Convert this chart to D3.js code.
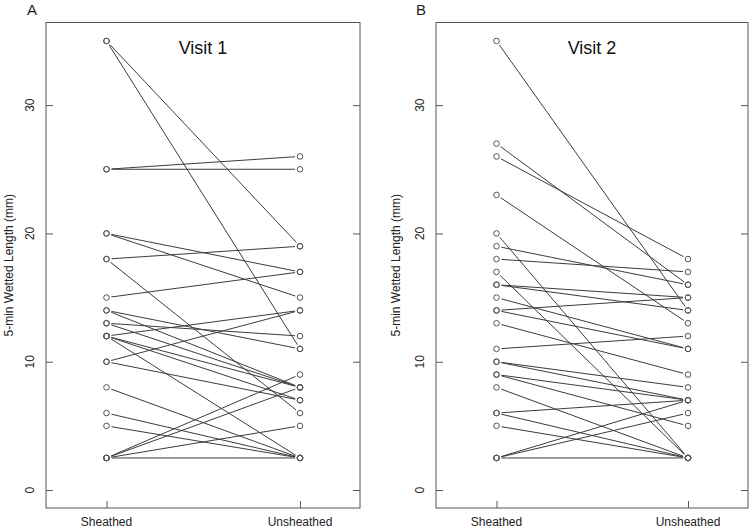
<!DOCTYPE html>
<html><head><meta charset="utf-8">
<script src="https://cdn.jsdelivr.net/npm/d3@7"></script>
<style>body{margin:0;background:#fff}svg{display:block}</style>
</head><body>
<script>
// ---- data (paired by index: sheathed -> unsheathed) ----
const groups = ["Sheathed", "Unsheathed"];
const yTicks = [0, 10, 20, 30];
const panelLetters = ["A", "B"];
const panelTitles = ["Visit 1", "Visit 2"];
const yLabel = "5-min Wetted Length (mm)";
const visit1Sheathed   = [35,35,25,25,20,20,18,18,15,14,14,13,13,12,12,12,12,10,10,8,6,5,2.5,2.5,2.5,2.5];
const visit1Unsheathed = [19,11,26,25,17,15,19,6,17,11,8,12,8,14,8,7,2.5,14,7,2.5,2.5,2.5,9,8,5,2.5];
const visit2Sheathed   = [35,27,26,23,20,19,18,17,16,16,15,14,14,13,11,10,10,9,9,8,6,6,5,2.5,2.5,2.5];
const visit2Unsheathed = [14,16,18,13,2.5,16,17,2.5,15,14,11,15,11,9,12,8,7,7,5,2.5,7,2.5,2.5,7,6,2.5];

(function () {
const W = 751, H = 532;
const svg = d3.select("body").append("svg").attr("width", W).attr("height", H);
const font = "Liberation Sans, Arial, sans-serif";

const panels = [
  {x0: 46, x1: 360, s: visit1Sheathed, u: visit1Unsheathed, letterX: 32, titleX: 9},
  {x0: 436, x1: 748, s: visit2Sheathed, u: visit2Unsheathed, letterX: 421, titleX: 396}
];
const plotTop = 22.5, plotBottom = 508;
const y = d3.scaleLinear().domain([-1.4, 36.44]).range([plotBottom, plotTop]);

panels.forEach((p, i) => {
  const x = d3.scalePoint().domain(groups).range([p.x0 + 60.5, p.x1 - 60]);
  const g = svg.append("g");
  const lineCol = "#3c3c3c";
  const gap = 5;
  p.s.forEach((sv, k) => {
    const ax = x(groups[0]), ay = y(sv), bx = x(groups[1]), by = y(p.u[k]);
    const dx = bx - ax, dy = by - ay, L = Math.hypot(dx, dy);
    const ux = dx / L, uy = dy / L;
    g.append("line")
      .attr("x1", ax + ux * gap).attr("y1", ay + uy * gap)
      .attr("x2", bx - ux * gap).attr("y2", by - uy * gap)
      .attr("stroke", lineCol).attr("stroke-width", 1);
  });
  const pts = [];
  p.s.forEach((sv, k) => { pts.push([groups[0], sv]); pts.push([groups[1], p.u[k]]); });
  g.selectAll("circle.pt").data(pts).join("circle")
    .attr("cx", d => x(d[0])).attr("cy", d => y(d[1])).attr("r", 2.8)
    .attr("fill", "none").attr("stroke", "#555").attr("stroke-width", 1);
  g.append("rect").attr("x", p.x0).attr("y", plotTop).attr("width", p.x1 - p.x0).attr("height", plotBottom - plotTop)
    .attr("fill", "none").attr("stroke", "#555").attr("stroke-width", 1);
  const tl = 7;
  const left = g.append("g").attr("transform", `translate(${p.x0},0)`)
    .call(d3.axisLeft(y).tickValues(yTicks).tickSizeInner(-tl).tickSizeOuter(0).tickFormat(""));
  left.select(".domain").remove();
  left.selectAll("line").attr("stroke", "#555");
  const right = g.append("g").attr("transform", `translate(${p.x1},0)`)
    .call(d3.axisRight(y).tickValues(yTicks).tickSizeInner(-tl).tickSizeOuter(0).tickFormat(""));
  right.select(".domain").remove();
  right.selectAll("line").attr("stroke", "#555");
  const bot = g.append("g").attr("transform", `translate(0,${plotBottom})`)
    .call(d3.axisBottom(x).tickSizeInner(-tl).tickSizeOuter(0).tickFormat(""));
  bot.select(".domain").remove();
  bot.selectAll("line").attr("stroke", "#555");
  yTicks.forEach(t => {
    g.append("text").attr("transform", `translate(${p.x0 - 12},${y(t)}) rotate(-90)`)
      .attr("text-anchor", "middle").attr("font-family", font).attr("font-size", 12)
      .attr("fill", "#222").text(t);
  });
  groups.forEach(gn => {
    g.append("text").attr("x", x(gn)).attr("y", 526).attr("text-anchor", "middle")
      .attr("font-family", font).attr("font-size", 12).attr("fill", "#222").text(gn);
  });
  g.append("text").attr("transform", `translate(${p.titleX + 4},${(plotTop + plotBottom) / 2}) rotate(-90)`)
    .attr("text-anchor", "middle").attr("font-family", font).attr("font-size", 12)
    .attr("fill", "#222").text(yLabel);
  g.append("text").attr("x", p.letterX).attr("y", 15).attr("text-anchor", "middle")
    .attr("font-family", font).attr("font-size", 15).attr("fill", "#222").text(panelLetters[i]);
  g.append("text").attr("x", (p.x0 + p.x1) / 2).attr("y", 54).attr("text-anchor", "middle")
    .attr("font-family", font).attr("font-size", 18).attr("fill", "#111").text(panelTitles[i]);
});
})();
</script>
</body></html>
